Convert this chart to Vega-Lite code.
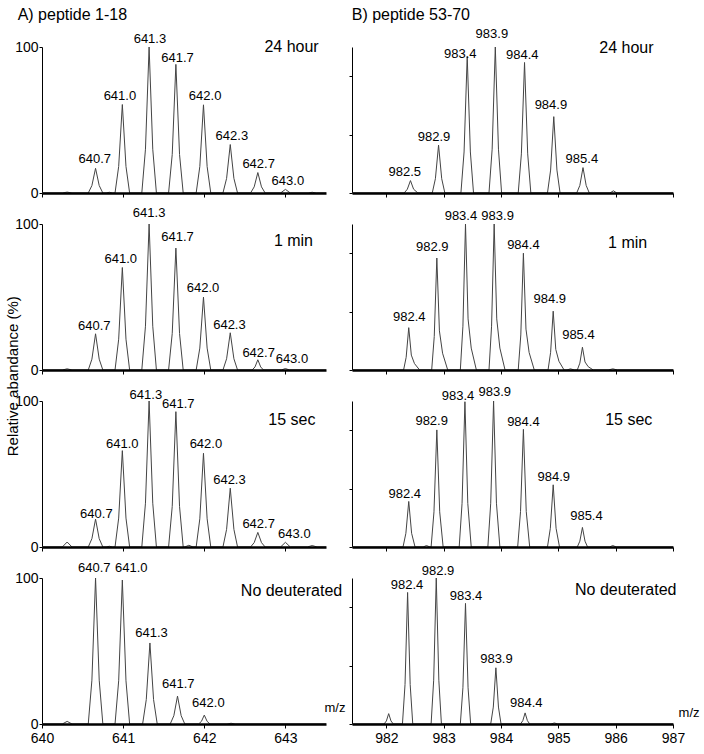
{
"$schema": "https://vega.github.io/schema/vega-lite/v6.json",
"padding": {"left": 5, "top": 7, "right": 2, "bottom": 2},
"title": {"text": "Relative abandance (%)", "orient": "left", "anchor": "middle", "font": "Liberation Sans", "fontSize": 15, "fontWeight": "normal", "color": "#000", "offset": -6},
"datasets": {
"L1": [{"m":640,"a":0},{"m":640.25,"a":0},{"m":640.31,"a":0.6},{"m":640.37,"a":0},{"m":640.57,"a":0},{"m":640.615,"a":5.1},{"m":640.66,"a":16.9},{"m":640.705,"a":5.1},{"m":640.75,"a":0},{"m":640.79,"a":0},{"m":640.83,"a":0.5},{"m":640.87,"a":0},{"m":640.9,"a":0},{"m":640.945,"a":18.2},{"m":640.99,"a":60.6},{"m":641.035,"a":18.2},{"m":641.08,"a":0},{"m":641.23,"a":0},{"m":641.275,"a":30},{"m":641.32,"a":100},{"m":641.365,"a":30},{"m":641.41,"a":0},{"m":641.56,"a":0},{"m":641.605,"a":26.4},{"m":641.65,"a":88.1},{"m":641.695,"a":26.4},{"m":641.74,"a":0},{"m":641.9,"a":0},{"m":641.945,"a":18.1},{"m":641.99,"a":60.4},{"m":642.035,"a":18.1},{"m":642.08,"a":0},{"m":642.23,"a":0},{"m":642.275,"a":10},{"m":642.32,"a":33.2},{"m":642.365,"a":10},{"m":642.41,"a":0},{"m":642.57,"a":0},{"m":642.615,"a":4.2},{"m":642.66,"a":14},{"m":642.705,"a":4.2},{"m":642.75,"a":0},{"m":642.94,"a":0},{"m":643.0,"a":2.5},{"m":643.06,"a":0},{"m":643.28,"a":0},{"m":643.33,"a":0.5},{"m":643.38,"a":0},{"m":643.5,"a":0}],
"L2": [{"m":640,"a":0},{"m":640.25,"a":0},{"m":640.31,"a":0.8},{"m":640.37,"a":0},{"m":640.57,"a":0},{"m":640.615,"a":7.4},{"m":640.66,"a":24.8},{"m":640.705,"a":7.4},{"m":640.75,"a":0},{"m":640.9,"a":0},{"m":640.945,"a":21.1},{"m":640.99,"a":70.2},{"m":641.035,"a":21.1},{"m":641.08,"a":0},{"m":641.23,"a":0},{"m":641.275,"a":30},{"m":641.32,"a":100},{"m":641.365,"a":30},{"m":641.41,"a":0},{"m":641.56,"a":0},{"m":641.605,"a":25},{"m":641.65,"a":83.5},{"m":641.695,"a":25},{"m":641.74,"a":0},{"m":641.9,"a":0},{"m":641.945,"a":15},{"m":641.99,"a":49.9},{"m":642.035,"a":15},{"m":642.08,"a":0},{"m":642.23,"a":0},{"m":642.275,"a":7.7},{"m":642.32,"a":25.5},{"m":642.365,"a":7.7},{"m":642.41,"a":0},{"m":642.59,"a":0},{"m":642.625,"a":2.1},{"m":642.66,"a":7},{"m":642.695,"a":2.1},{"m":642.73,"a":0},{"m":642.95,"a":0},{"m":643.0,"a":1},{"m":643.05,"a":0},{"m":643.5,"a":0}],
"L3": [{"m":640,"a":0},{"m":640.25,"a":0},{"m":640.31,"a":3.4},{"m":640.37,"a":0},{"m":640.57,"a":0},{"m":640.615,"a":5.7},{"m":640.66,"a":19.1},{"m":640.705,"a":5.7},{"m":640.75,"a":0},{"m":640.79,"a":0},{"m":640.83,"a":0.5},{"m":640.87,"a":0},{"m":640.9,"a":0},{"m":640.945,"a":19.8},{"m":640.99,"a":66},{"m":641.035,"a":19.8},{"m":641.08,"a":0},{"m":641.23,"a":0},{"m":641.275,"a":30},{"m":641.32,"a":100},{"m":641.365,"a":30},{"m":641.41,"a":0},{"m":641.56,"a":0},{"m":641.605,"a":27.8},{"m":641.65,"a":92.7},{"m":641.695,"a":27.8},{"m":641.74,"a":0},{"m":641.76,"a":0},{"m":641.81,"a":1.2},{"m":641.86,"a":0},{"m":641.9,"a":0},{"m":641.945,"a":19.3},{"m":641.99,"a":64.2},{"m":642.035,"a":19.3},{"m":642.08,"a":0},{"m":642.23,"a":0},{"m":642.275,"a":12.1},{"m":642.32,"a":40.3},{"m":642.365,"a":12.1},{"m":642.41,"a":0},{"m":642.57,"a":0},{"m":642.615,"a":3},{"m":642.66,"a":10},{"m":642.705,"a":3},{"m":642.75,"a":0},{"m":642.94,"a":0},{"m":643.0,"a":3.2},{"m":643.06,"a":0},{"m":643.27,"a":0},{"m":643.33,"a":1},{"m":643.39,"a":0},{"m":643.5,"a":0}],
"L4": [{"m":640,"a":0},{"m":640.25,"a":0},{"m":640.31,"a":1.8},{"m":640.37,"a":0},{"m":640.57,"a":0},{"m":640.615,"a":30},{"m":640.66,"a":100},{"m":640.705,"a":30},{"m":640.75,"a":0},{"m":640.9,"a":0},{"m":640.945,"a":29.6},{"m":640.99,"a":98.6},{"m":641.035,"a":29.6},{"m":641.08,"a":0},{"m":641.24,"a":0},{"m":641.285,"a":16.7},{"m":641.33,"a":55.5},{"m":641.375,"a":16.7},{"m":641.42,"a":0},{"m":641.58,"a":0},{"m":641.625,"a":5.7},{"m":641.67,"a":19.1},{"m":641.715,"a":5.7},{"m":641.76,"a":0},{"m":641.93,"a":0},{"m":641.965,"a":1.8},{"m":642.0,"a":6.1},{"m":642.035,"a":1.8},{"m":642.07,"a":0},{"m":642.28,"a":0},{"m":642.33,"a":0.5},{"m":642.38,"a":0},{"m":643.5,"a":0}],
"R1": [{"m":981.4,"a":0},{"m":982.31,"a":0},{"m":982.365,"a":2.6},{"m":982.42,"a":8.5},{"m":982.475,"a":2.6},{"m":982.55,"a":0},{"m":982.8,"a":0},{"m":982.855,"a":9.8},{"m":982.91,"a":32.8},{"m":982.965,"a":9.8},{"m":983.02,"a":0},{"m":983.3,"a":0},{"m":983.355,"a":28.1},{"m":983.41,"a":93.6},{"m":983.465,"a":28.1},{"m":983.52,"a":0},{"m":983.79,"a":0},{"m":983.845,"a":30},{"m":983.9,"a":100},{"m":983.955,"a":30},{"m":984.01,"a":0},{"m":984.3,"a":0},{"m":984.355,"a":26.8},{"m":984.41,"a":89.4},{"m":984.465,"a":26.8},{"m":984.52,"a":0},{"m":984.81,"a":0},{"m":984.865,"a":15.7},{"m":984.92,"a":52.3},{"m":984.975,"a":15.7},{"m":985.03,"a":0},{"m":985.32,"a":0},{"m":985.375,"a":5.2},{"m":985.43,"a":17.4},{"m":985.485,"a":5.2},{"m":985.54,"a":0},{"m":985.9,"a":0},{"m":985.96,"a":1.5},{"m":986.02,"a":0},{"m":987,"a":0}],
"R2": [{"m":981.4,"a":0},{"m":982.3,"a":0},{"m":982.345,"a":8.7},{"m":982.39,"a":29},{"m":982.435,"a":10.2},{"m":982.49,"a":4.4},{"m":982.58,"a":0},{"m":982.79,"a":0},{"m":982.835,"a":23},{"m":982.88,"a":76.7},{"m":982.925,"a":26.8},{"m":982.98,"a":11.5},{"m":983.07,"a":0},{"m":983.29,"a":0},{"m":983.335,"a":30},{"m":983.38,"a":100},{"m":983.425,"a":35},{"m":983.48,"a":15},{"m":983.57,"a":0},{"m":983.79,"a":0},{"m":983.835,"a":30},{"m":983.88,"a":100},{"m":983.925,"a":35},{"m":983.98,"a":15},{"m":984.07,"a":0},{"m":984.3,"a":0},{"m":984.345,"a":24},{"m":984.39,"a":80},{"m":984.435,"a":28},{"m":984.49,"a":12},{"m":984.58,"a":0},{"m":984.82,"a":0},{"m":984.865,"a":12.1},{"m":984.91,"a":40.3},{"m":984.955,"a":14.1},{"m":985.01,"a":6},{"m":985.1,"a":0},{"m":985.15,"a":0},{"m":985.21,"a":0.8},{"m":985.28,"a":0},{"m":985.33,"a":0},{"m":985.375,"a":4.7},{"m":985.42,"a":15.6},{"m":985.465,"a":5.5},{"m":985.52,"a":2.3},{"m":985.61,"a":0},{"m":985.87,"a":0},{"m":985.95,"a":0.8},{"m":986.03,"a":0},{"m":987,"a":0}],
"R3": [{"m":981.4,"a":0},{"m":982.29,"a":0},{"m":982.34,"a":9.4},{"m":982.39,"a":31.2},{"m":982.44,"a":9.4},{"m":982.5,"a":0},{"m":982.64,"a":0},{"m":982.7,"a":1},{"m":982.76,"a":0},{"m":982.78,"a":0},{"m":982.83,"a":24.1},{"m":982.88,"a":80.2},{"m":982.93,"a":24.1},{"m":982.99,"a":0},{"m":983.27,"a":0},{"m":983.32,"a":29.9},{"m":983.37,"a":99.5},{"m":983.42,"a":29.9},{"m":983.48,"a":0},{"m":983.77,"a":0},{"m":983.82,"a":30},{"m":983.87,"a":100},{"m":983.92,"a":30},{"m":983.98,"a":0},{"m":984.29,"a":0},{"m":984.34,"a":24.2},{"m":984.39,"a":80.6},{"m":984.44,"a":24.2},{"m":984.5,"a":0},{"m":984.81,"a":0},{"m":984.86,"a":12.8},{"m":984.91,"a":42.6},{"m":984.96,"a":12.8},{"m":985.02,"a":0},{"m":985.33,"a":0},{"m":985.375,"a":4},{"m":985.42,"a":13.4},{"m":985.465,"a":4},{"m":985.51,"a":0},{"m":985.89,"a":0},{"m":985.95,"a":1},{"m":986.01,"a":0},{"m":987,"a":0}],
"R4": [{"m":981.4,"a":0},{"m":981.96,"a":0},{"m":982.0,"a":2.1},{"m":982.04,"a":7.1},{"m":982.08,"a":2.1},{"m":982.12,"a":0},{"m":982.28,"a":0},{"m":982.325,"a":27},{"m":982.37,"a":90.1},{"m":982.415,"a":27},{"m":982.46,"a":0},{"m":982.78,"a":0},{"m":982.825,"a":30},{"m":982.87,"a":100},{"m":982.915,"a":30},{"m":982.96,"a":0},{"m":983.29,"a":0},{"m":983.335,"a":24.8},{"m":983.38,"a":82.6},{"m":983.425,"a":24.8},{"m":983.47,"a":0},{"m":983.82,"a":0},{"m":983.865,"a":11.6},{"m":983.91,"a":38.5},{"m":983.955,"a":11.6},{"m":984.0,"a":0},{"m":984.34,"a":0},{"m":984.38,"a":2.3},{"m":984.42,"a":7.6},{"m":984.46,"a":2.3},{"m":984.5,"a":0},{"m":984.87,"a":0},{"m":984.93,"a":0.7},{"m":984.99,"a":0},{"m":987,"a":0}],
"LL1": [{"m":640.65,"a":20.5,"t":"640.7"},{"m":640.96,"a":63.9,"t":"641.0"},{"m":641.33,"a":102.5,"t":"641.3"},{"m":641.67,"a":90,"t":"641.7"},{"m":642.01,"a":63.7,"t":"642.0"},{"m":642.34,"a":36.5,"t":"642.3"},{"m":642.67,"a":16.9,"t":"642.7"},{"m":643.03,"a":5.5,"t":"643.0"}],
"LL2": [{"m":640.645,"a":27.4,"t":"640.7"},{"m":640.97,"a":73.1,"t":"641.0"},{"m":641.32,"a":104.6,"t":"641.3"},{"m":641.67,"a":88.6,"t":"641.7"},{"m":641.985,"a":53.2,"t":"642.0"},{"m":642.31,"a":28.1,"t":"642.3"},{"m":642.67,"a":9.2,"t":"642.7"},{"m":643.08,"a":4.8,"t":"643.0"}],
"LL3": [{"m":640.67,"a":19.9,"t":"640.7"},{"m":640.99,"a":67.8,"t":"641.0"},{"m":641.28,"a":101.6,"t":"641.3"},{"m":641.68,"a":95.2,"t":"641.7"},{"m":642.02,"a":67.8,"t":"642.0"},{"m":642.31,"a":43.4,"t":"642.3"},{"m":642.67,"a":13,"t":"642.7"},{"m":643.11,"a":6.2,"t":"643.0"}],
"LL4": [{"m":640.645,"a":104.3,"t":"640.7"},{"m":641.1,"a":104.3,"t":"641.0"},{"m":641.35,"a":59.8,"t":"641.3"},{"m":641.68,"a":24.4,"t":"641.7"},{"m":642.05,"a":11.9,"t":"642.0"}],
"RL1": [{"m":982.32,"a":11.8,"t":"982.5"},{"m":982.83,"a":35.6,"t":"982.9"},{"m":983.29,"a":92.3,"t":"983.4"},{"m":983.84,"a":106,"t":"983.9"},{"m":984.37,"a":91.6,"t":"984.4"},{"m":984.87,"a":57.3,"t":"984.9"},{"m":985.41,"a":20.8,"t":"985.4"}],
"RL2": [{"m":982.4,"a":33.6,"t":"982.4"},{"m":982.8,"a":81.5,"t":"982.9"},{"m":983.3,"a":102.7,"t":"983.4"},{"m":983.94,"a":102.7,"t":"983.9"},{"m":984.39,"a":83.1,"t":"984.4"},{"m":984.85,"a":45.7,"t":"984.9"},{"m":985.35,"a":21,"t":"985.4"}],
"RL3": [{"m":982.32,"a":33.5,"t":"982.4"},{"m":982.79,"a":83.8,"t":"982.9"},{"m":983.25,"a":100.4,"t":"983.4"},{"m":983.89,"a":103.2,"t":"983.9"},{"m":984.39,"a":82.6,"t":"984.4"},{"m":984.92,"a":45,"t":"984.9"},{"m":985.49,"a":18.7,"t":"985.4"}],
"RL4": [{"m":982.36,"a":92.2,"t":"982.4"},{"m":982.9,"a":102,"t":"982.9"},{"m":983.39,"a":84.9,"t":"983.4"},{"m":983.92,"a":41.6,"t":"983.9"},{"m":984.44,"a":11.9,"t":"984.4"}]
},
"columns": 2,
"spacing": {"row": 31, "column": 26},
"bounds": "flush",
"concat": [
 {"width": 284, "height": 146, "layer": [
  {"data": {"name": "L1"}, "mark": {"type": "line", "color": "#444", "strokeWidth": 1},
   "encoding": {"x": {"field": "m", "type": "quantitative", "scale": {"domain": [640, 643.5], "nice": false, "zero": false}, "axis": {"values": [640, 641, 642, 643], "labels": false, "title": null, "zindex": 1}},
    "y": {"field": "a", "type": "quantitative", "scale": {"domain": [0, 100], "nice": false}, "axis": {"values": [0, 100], "title": null}}}},
  {"data": {"name": "LL1"}, "mark": {"type": "text", "fontSize": 13, "baseline": "alphabetic"},
   "encoding": {"x": {"field": "m", "type": "quantitative"}, "y": {"field": "a", "type": "quantitative"}, "text": {"field": "t"}}},
  {"data": {"values": [{"m": 643.41, "a": 96.4, "t": "24 hour"}]}, "mark": {"type": "text", "fontSize": 16, "align": "right", "baseline": "alphabetic"},
   "encoding": {"x": {"field": "m", "type": "quantitative"}, "y": {"field": "a", "type": "quantitative"}, "text": {"field": "t"}}},
  {"data": {"values": [{"m": 639.7, "a": 118.2, "t": "A) peptide 1-18"}]}, "mark": {"type": "text", "fontSize": 16, "align": "left", "baseline": "alphabetic"},
   "encoding": {"x": {"field": "m", "type": "quantitative"}, "y": {"field": "a", "type": "quantitative"}, "text": {"field": "t"}}}
 ]},
 {"width": 321, "height": 146, "layer": [
  {"data": {"name": "R1"}, "mark": {"type": "line", "color": "#444", "strokeWidth": 1},
   "encoding": {"x": {"field": "m", "type": "quantitative", "scale": {"domain": [981.4, 987], "nice": false, "zero": false}, "axis": {"values": [982, 983, 984, 985, 986, 987], "labels": false, "title": null, "zindex": 1}},
    "y": {"field": "a", "type": "quantitative", "scale": {"domain": [0, 100], "nice": false}, "axis": {"values": [0,10,20,30,40,50,60,70,80,90,100], "labels": false, "title": null}}}},
  {"data": {"name": "RL1"}, "mark": {"type": "text", "fontSize": 13, "baseline": "alphabetic"},
   "encoding": {"x": {"field": "m", "type": "quantitative"}, "y": {"field": "a", "type": "quantitative"}, "text": {"field": "t"}}},
  {"data": {"values": [{"m": 986.66, "a": 96.1, "t": "24 hour"}]}, "mark": {"type": "text", "fontSize": 16, "align": "right", "baseline": "alphabetic"},
   "encoding": {"x": {"field": "m", "type": "quantitative"}, "y": {"field": "a", "type": "quantitative"}, "text": {"field": "t"}}},
  {"data": {"values": [{"m": 981.395, "a": 118.2, "t": "B) peptide 53-70"}]}, "mark": {"type": "text", "fontSize": 16, "align": "left", "baseline": "alphabetic"},
   "encoding": {"x": {"field": "m", "type": "quantitative"}, "y": {"field": "a", "type": "quantitative"}, "text": {"field": "t"}}}
 ]},
 {"width": 284, "height": 146, "layer": [
  {"data": {"name": "L2"}, "mark": {"type": "line", "color": "#444", "strokeWidth": 1},
   "encoding": {"x": {"field": "m", "type": "quantitative", "scale": {"domain": [640, 643.5], "nice": false, "zero": false}, "axis": {"values": [640, 641, 642, 643], "labels": false, "title": null, "zindex": 1}},
    "y": {"field": "a", "type": "quantitative", "scale": {"domain": [0, 100], "nice": false}, "axis": {"values": [0, 100], "title": null}}}},
  {"data": {"name": "LL2"}, "mark": {"type": "text", "fontSize": 13, "baseline": "alphabetic"},
   "encoding": {"x": {"field": "m", "type": "quantitative"}, "y": {"field": "a", "type": "quantitative"}, "text": {"field": "t"}}},
  {"data": {"values": [{"m": 643.34, "a": 85.2, "t": "1 min"}]}, "mark": {"type": "text", "fontSize": 16, "align": "right", "baseline": "alphabetic"},
   "encoding": {"x": {"field": "m", "type": "quantitative"}, "y": {"field": "a", "type": "quantitative"}, "text": {"field": "t"}}}
 ]},
 {"width": 321, "height": 146, "layer": [
  {"data": {"name": "R2"}, "mark": {"type": "line", "color": "#444", "strokeWidth": 1},
   "encoding": {"x": {"field": "m", "type": "quantitative", "scale": {"domain": [981.4, 987], "nice": false, "zero": false}, "axis": {"values": [982, 983, 984, 985, 986, 987], "labels": false, "title": null, "zindex": 1}},
    "y": {"field": "a", "type": "quantitative", "scale": {"domain": [0, 100], "nice": false}, "axis": {"values": [0,10,20,30,40,50,60,70,80,90,100], "labels": false, "title": null}}}},
  {"data": {"name": "RL2"}, "mark": {"type": "text", "fontSize": 13, "baseline": "alphabetic"},
   "encoding": {"x": {"field": "m", "type": "quantitative"}, "y": {"field": "a", "type": "quantitative"}, "text": {"field": "t"}}},
  {"data": {"values": [{"m": 986.55, "a": 83.8, "t": "1 min"}]}, "mark": {"type": "text", "fontSize": 16, "align": "right", "baseline": "alphabetic"},
   "encoding": {"x": {"field": "m", "type": "quantitative"}, "y": {"field": "a", "type": "quantitative"}, "text": {"field": "t"}}}
 ]},
 {"width": 284, "height": 146, "layer": [
  {"data": {"name": "L3"}, "mark": {"type": "line", "color": "#444", "strokeWidth": 1},
   "encoding": {"x": {"field": "m", "type": "quantitative", "scale": {"domain": [640, 643.5], "nice": false, "zero": false}, "axis": {"values": [640, 641, 642, 643], "labels": false, "title": null, "zindex": 1}},
    "y": {"field": "a", "type": "quantitative", "scale": {"domain": [0, 100], "nice": false}, "axis": {"values": [0, 100], "title": null}}}},
  {"data": {"name": "LL3"}, "mark": {"type": "text", "fontSize": 13, "baseline": "alphabetic"},
   "encoding": {"x": {"field": "m", "type": "quantitative"}, "y": {"field": "a", "type": "quantitative"}, "text": {"field": "t"}}},
  {"data": {"values": [{"m": 643.37, "a": 83.8, "t": "15 sec"}]}, "mark": {"type": "text", "fontSize": 16, "align": "right", "baseline": "alphabetic"},
   "encoding": {"x": {"field": "m", "type": "quantitative"}, "y": {"field": "a", "type": "quantitative"}, "text": {"field": "t"}}}
 ]},
 {"width": 321, "height": 146, "layer": [
  {"data": {"name": "R3"}, "mark": {"type": "line", "color": "#444", "strokeWidth": 1},
   "encoding": {"x": {"field": "m", "type": "quantitative", "scale": {"domain": [981.4, 987], "nice": false, "zero": false}, "axis": {"values": [982, 983, 984, 985, 986, 987], "labels": false, "title": null, "zindex": 1}},
    "y": {"field": "a", "type": "quantitative", "scale": {"domain": [0, 100], "nice": false}, "axis": {"values": [0,10,20,30,40,50,60,70,80,90,100], "labels": false, "title": null}}}},
  {"data": {"name": "RL3"}, "mark": {"type": "text", "fontSize": 13, "baseline": "alphabetic"},
   "encoding": {"x": {"field": "m", "type": "quantitative"}, "y": {"field": "a", "type": "quantitative"}, "text": {"field": "t"}}},
  {"data": {"values": [{"m": 986.64, "a": 83.8, "t": "15 sec"}]}, "mark": {"type": "text", "fontSize": 16, "align": "right", "baseline": "alphabetic"},
   "encoding": {"x": {"field": "m", "type": "quantitative"}, "y": {"field": "a", "type": "quantitative"}, "text": {"field": "t"}}}
 ]},
 {"width": 284, "height": 146, "layer": [
  {"data": {"name": "L4"}, "mark": {"type": "line", "color": "#444", "strokeWidth": 1},
   "encoding": {"x": {"field": "m", "type": "quantitative", "scale": {"domain": [640, 643.5], "nice": false, "zero": false}, "axis": {"values": [640, 641, 642, 643], "format": "d", "title": null, "zindex": 1}},
    "y": {"field": "a", "type": "quantitative", "scale": {"domain": [0, 100], "nice": false}, "axis": {"values": [0, 100], "title": null}}}},
  {"data": {"name": "LL4"}, "mark": {"type": "text", "fontSize": 13, "baseline": "alphabetic"},
   "encoding": {"x": {"field": "m", "type": "quantitative"}, "y": {"field": "a", "type": "quantitative"}, "text": {"field": "t"}}},
  {"data": {"values": [{"m": 643.7, "a": 87.7, "t": "No deuterated"}]}, "mark": {"type": "text", "fontSize": 16, "align": "right", "baseline": "alphabetic"},
   "encoding": {"x": {"field": "m", "type": "quantitative"}, "y": {"field": "a", "type": "quantitative"}, "text": {"field": "t"}}},
  {"data": {"values": [{"m": 643.61, "a": 8.4, "t": "m/z"}]}, "mark": {"type": "text", "fontSize": 13, "align": "center", "baseline": "alphabetic"},
   "encoding": {"x": {"field": "m", "type": "quantitative"}, "y": {"field": "a", "type": "quantitative"}, "text": {"field": "t"}}}
 ]},
 {"width": 321, "height": 146, "layer": [
  {"data": {"name": "R4"}, "mark": {"type": "line", "color": "#444", "strokeWidth": 1},
   "encoding": {"x": {"field": "m", "type": "quantitative", "scale": {"domain": [981.4, 987], "nice": false, "zero": false}, "axis": {"values": [982, 983, 984, 985, 986, 987], "format": "d", "title": null, "zindex": 1}},
    "y": {"field": "a", "type": "quantitative", "scale": {"domain": [0, 100], "nice": false}, "axis": {"values": [0,10,20,30,40,50,60,70,80,90,100], "labels": false, "title": null}}}},
  {"data": {"name": "RL4"}, "mark": {"type": "text", "fontSize": 13, "baseline": "alphabetic"},
   "encoding": {"x": {"field": "m", "type": "quantitative"}, "y": {"field": "a", "type": "quantitative"}, "text": {"field": "t"}}},
  {"data": {"values": [{"m": 987.06, "a": 88.4, "t": "No deuterated"}]}, "mark": {"type": "text", "fontSize": 16, "align": "right", "baseline": "alphabetic"},
   "encoding": {"x": {"field": "m", "type": "quantitative"}, "y": {"field": "a", "type": "quantitative"}, "text": {"field": "t"}}},
  {"data": {"values": [{"m": 987.28, "a": 5, "t": "m/z"}]}, "mark": {"type": "text", "fontSize": 13, "align": "center", "baseline": "alphabetic"},
   "encoding": {"x": {"field": "m", "type": "quantitative"}, "y": {"field": "a", "type": "quantitative"}, "text": {"field": "t"}}}
 ]}
],
"config": {
 "view": {"stroke": null},
 "axis": {"grid": false, "domainColor": "#000", "tickColor": "#000", "labelColor": "#000", "labelFont": "Liberation Sans", "labelFontSize": 14, "labelFlush": false, "labelOverlap": false},
 "axisX": {"domainWidth": 2.5, "tickSize": 4, "labelPadding": 3},
 "axisY": {"domainWidth": 1, "tickSize": 3, "labelPadding": 1},
 "text": {"font": "Liberation Sans", "color": "#000"}
}
}
